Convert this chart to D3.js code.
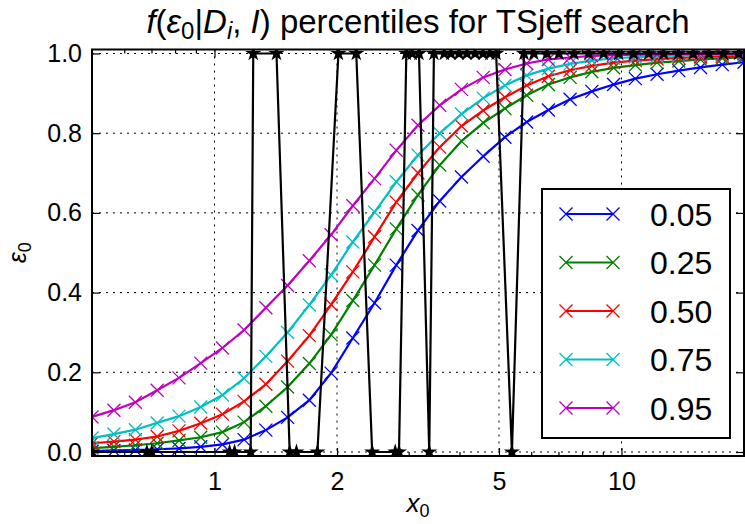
<!DOCTYPE html>
<html>
<head>
<meta charset="utf-8">
<script src="https://cdn.jsdelivr.net/npm/d3@7"></script>
<style>
  body { margin: 0; background: #fff; }
  svg { font-family: "Liberation Sans", Arial, Helvetica, sans-serif; }
  .grid line { stroke: #000; stroke-width: 1; stroke-dasharray: 2,5; }
  .tick text { font-size: 25px; fill: #000; }
</style>
</head>
<body>
<div id="chart"></div>
<script>
var width = 745;
var height = 524;

// x0 sample points (log spaced), shared by all percentile curves
var x0 = [0.5, 0.566, 0.639, 0.723, 0.818, 0.925, 1.046, 1.182, 1.337, 1.512, 1.710,
  1.934, 2.187, 2.473, 2.796, 3.162, 3.576, 4.044, 4.573, 5.171, 5.848, 6.613, 7.478,
  8.457, 9.564, 10.815, 12.229, 13.830, 15.639, 17.685, 20.0];

var p05 = [0.002, 0.004, 0.005, 0.007, 0.009, 0.013, 0.019, 0.031, 0.055, 0.087, 0.13,
  0.198, 0.286, 0.374, 0.469, 0.556, 0.63, 0.69, 0.742, 0.79, 0.828, 0.858, 0.885, 0.905,
  0.922, 0.937, 0.948, 0.957, 0.965, 0.972, 0.978];
var p25 = [0.010, 0.013, 0.017, 0.022, 0.029, 0.037, 0.05, 0.075, 0.115, 0.163, 0.222,
  0.294, 0.38, 0.469, 0.56, 0.645, 0.72, 0.78, 0.826, 0.862, 0.895, 0.922, 0.94, 0.954,
  0.964, 0.971, 0.977, 0.981, 0.985, 0.988, 0.99];
var p50 = [0.022, 0.026, 0.031, 0.039, 0.053, 0.072, 0.095, 0.127, 0.17, 0.228, 0.292,
  0.37, 0.452, 0.54, 0.627, 0.70, 0.765, 0.818, 0.857, 0.89, 0.92, 0.943, 0.958, 0.969,
  0.977, 0.982, 0.986, 0.989, 0.991, 0.993, 0.994];
var p75 = [0.035, 0.045, 0.056, 0.073, 0.09, 0.113, 0.143, 0.185, 0.24, 0.30, 0.369,
  0.444, 0.527, 0.602, 0.678, 0.745, 0.80, 0.848, 0.888, 0.92, 0.945, 0.962, 0.974, 0.982,
  0.988, 0.991, 0.993, 0.995, 0.996, 0.997, 0.998];
var p95 = [0.088, 0.105, 0.125, 0.155, 0.186, 0.223, 0.261, 0.306, 0.362, 0.418, 0.48,
  0.545, 0.618, 0.686, 0.757, 0.82, 0.87, 0.91, 0.94, 0.96, 0.975, 0.985, 0.99, 0.994,
  0.996, 0.997, 0.998, 0.999, 0.999, 0.999, 1.0];

var seriesNames = ["0.05", "0.25", "0.50", "0.75", "0.95"];
var seriesColors = ["#0000ff", "#008000", "#ff0000", "#00bfbf", "#bf00bf"];

// detection outcome (0 / 1) of the search at each injected x0
var hitX = [0.5, 0.682, 0.701, 1.089, 1.12, 1.227, 1.245, 1.42, 1.53, 1.59, 1.79, 2.016,
  2.23, 2.44, 2.78, 2.84, 2.96, 3.06, 3.18, 3.37, 3.46, 3.67, 3.81, 3.99, 4.17, 4.37,
  4.57, 4.75, 4.92, 5.38, 5.76, 6.09, 6.56, 7.02, 7.64, 8.31, 9.04, 9.84, 10.7, 11.66,
  12.7, 13.8, 15.0, 16.4, 17.8, 19.4];
var hitY = [0, 0, 0, 0, 0, 0, 1, 1, 0, 0, 0, 1,
  1, 0, 0, 0, 1, 1, 1, 0, 1, 1, 1, 1, 1, 1,
  1, 1, 1, 0, 1, 1, 1, 1, 1, 1, 1, 1, 1, 1,
  1, 1, 1, 1, 1, 1];

var xMajor = [1, 2, 5, 10];
var xMinor = [0.6, 0.7, 0.8, 0.9, 3, 4, 6, 7, 8, 9, 20];
var yTicks = [0, 0.2, 0.4, 0.6, 0.8, 1.0];

var pL = 92, pR = 744, pT = 49.5, pB = 456;

var x = d3.scaleLog().domain([0.5, 20]).range([pL, pR]);
var y = d3.scaleLinear().domain([-0.01, 1.01]).range([pB, pT]);

var svg = d3.select("#chart").append("svg")
  .attr("width", width)
  .attr("height", height);

svg.append("defs").append("clipPath").attr("id", "clip")
  .append("rect")
  .attr("x", pL).attr("y", pT)
  .attr("width", pR - pL).attr("height", pB - pT);

// grid
var grid = svg.append("g").attr("class", "grid");
grid.selectAll(".gx").data(xMajor).enter().append("line")
  .attr("x1", function (d) { return x(d); }).attr("x2", function (d) { return x(d); })
  .attr("y1", pT).attr("y2", pB);
grid.selectAll(".gy").data(yTicks).enter().append("line")
  .attr("x1", pL).attr("x2", pR)
  .attr("y1", function (d) { return y(d); }).attr("y2", function (d) { return y(d); });

// axes (ticks point inward)
var fmt = d3.format(".1f");
svg.append("g").attr("transform", "translate(0," + pB + ")")
  .call(d3.axisBottom(x).tickValues(xMajor).tickFormat(d3.format("d")).tickSize(-8).tickPadding(16));
svg.append("g").attr("transform", "translate(0," + pB + ")")
  .call(d3.axisBottom(x).tickValues(xMinor).tickFormat("").tickSize(-4));
svg.append("g").attr("transform", "translate(0," + pT + ")")
  .call(d3.axisTop(x).tickValues(xMajor).tickFormat("").tickSize(-8));
svg.append("g").attr("transform", "translate(0," + pT + ")")
  .call(d3.axisTop(x).tickValues(xMinor).tickFormat("").tickSize(-4));
svg.append("g").attr("transform", "translate(" + pL + ",0)")
  .call(d3.axisLeft(y).tickValues(yTicks).tickFormat(fmt).tickSize(-8).tickPadding(10));
svg.append("g").attr("transform", "translate(" + pR + ",0)")
  .call(d3.axisRight(y).tickValues(yTicks).tickFormat("").tickSize(-8));
svg.selectAll(".domain").remove();
svg.selectAll(".tick line").attr("stroke", "#000").attr("stroke-width", 1.2);

var plot = svg.append("g").attr("clip-path", "url(#clip)");

var line = d3.line()
  .x(function (d) { return x(d[0]); })
  .y(function (d) { return y(d[1]); });

var crossPath = "M-6.5,-6.5L6.5,6.5M-6.5,6.5L6.5,-6.5";

var allSeries = [p05, p25, p50, p75, p95];
allSeries.forEach(function (vals, i) {
  var pts = x0.map(function (d, j) { return [d, vals[j]]; });
  plot.append("path")
    .datum(pts)
    .attr("d", line)
    .attr("fill", "none")
    .attr("stroke", seriesColors[i])
    .attr("stroke-width", 2.2);
  plot.append("g").selectAll("path")
    .data(pts).enter().append("path")
    .attr("transform", function (d) { return "translate(" + x(d[0]) + "," + y(d[1]) + ")"; })
    .attr("d", crossPath)
    .attr("stroke", seriesColors[i])
    .attr("stroke-width", 1.3)
    .attr("fill", "none");
});

var hits = hitX.map(function (d, j) { return [d, hitY[j]]; });
plot.append("path")
  .datum(hits)
  .attr("d", line)
  .attr("fill", "none")
  .attr("stroke", "#000")
  .attr("stroke-width", 2.2);
var star = d3.symbol().type(d3.symbolStar).size(80);
plot.append("g").selectAll("path")
  .data(hits).enter().append("path")
  .attr("transform", function (d) { return "translate(" + x(d[0]) + "," + y(d[1]) + ")"; })
  .attr("d", star)
  .attr("fill", "#000");

// frame
svg.append("rect")
  .attr("x", pL).attr("y", pT)
  .attr("width", pR - pL).attr("height", pB - pT)
  .attr("fill", "none")
  .attr("stroke", "#000")
  .attr("stroke-width", 2);

// legend
var lg = svg.append("g").attr("transform", "translate(542,189)");
lg.append("rect")
  .attr("width", 188).attr("height", 249)
  .attr("fill", "#fff").attr("stroke", "#000").attr("stroke-width", 2);
seriesNames.forEach(function (name, i) {
  var cy = 25 + i * 48.5;
  lg.append("line")
    .attr("x1", 24).attr("x2", 71).attr("y1", cy).attr("y2", cy)
    .attr("stroke", seriesColors[i]).attr("stroke-width", 2.2);
  [24, 71].forEach(function (cx) {
    lg.append("path")
      .attr("transform", "translate(" + cx + "," + cy + ")")
      .attr("d", crossPath)
      .attr("stroke", seriesColors[i]).attr("stroke-width", 1.3);
  });
  lg.append("text")
    .attr("x", 108).attr("y", cy + 11.5)
    .attr("font-size", 32)
    .text(name);
});

// title
var title = svg.append("text")
  .attr("x", (pL + pR) / 2).attr("y", 33)
  .attr("text-anchor", "middle")
  .attr("font-size", 33);
title.append("tspan").attr("font-style", "italic").text("f");
title.append("tspan").text("(");
title.append("tspan").attr("font-style", "italic").text("ε");
title.append("tspan").attr("font-size", 24).attr("dy", 6).text("0");
title.append("tspan").attr("dy", -6).text("|");
title.append("tspan").attr("font-style", "italic").text("D");
title.append("tspan").attr("font-style", "italic").attr("font-size", 24).attr("dy", 6).text("i");
title.append("tspan").attr("dy", -6).text(", ");
title.append("tspan").attr("font-style", "italic").text("I");
title.append("tspan").text(") percentiles for TSjeff search");

// axis labels
var xl = svg.append("text")
  .attr("x", (pL + pR) / 2).attr("y", 512)
  .attr("text-anchor", "middle")
  .attr("font-size", 26);
xl.append("tspan").attr("font-style", "italic").text("x");
xl.append("tspan").attr("font-size", 18).attr("dy", 5).text("0");

var yl = svg.append("text")
  .attr("transform", "translate(26," + ((pT + pB) / 2) + ") rotate(-90)")
  .attr("text-anchor", "middle")
  .attr("font-size", 25);
yl.append("tspan").attr("font-style", "italic").text("ε");
yl.append("tspan").attr("font-size", 18).attr("dy", 5).text("0");
</script>
</body>
</html>
